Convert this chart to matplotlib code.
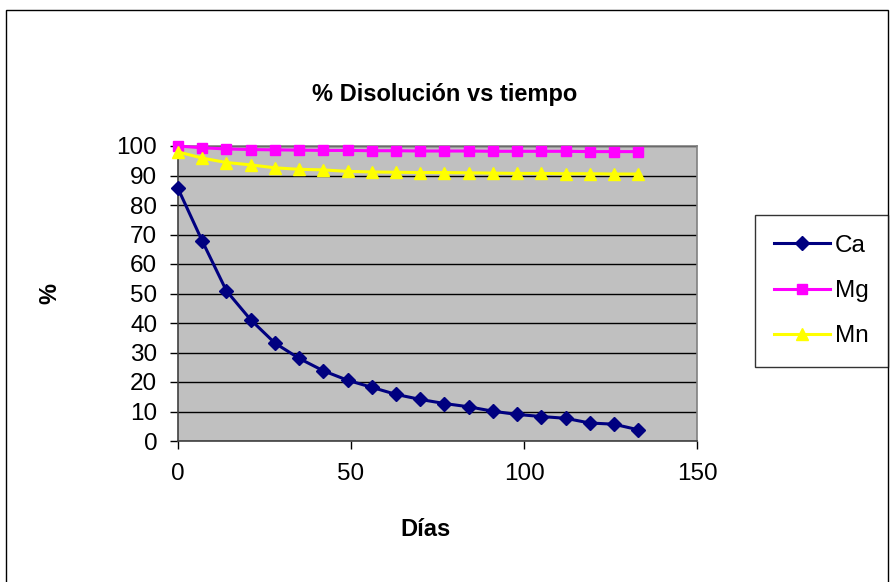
import matplotlib
matplotlib.use("Agg")
import matplotlib.pyplot as plt
from matplotlib.patches import Rectangle

plt.rcParams['font.family'] = ['Liberation Sans', 'DejaVu Sans']

dias = [0, 7, 14, 21, 28, 35, 42, 49, 56, 63, 70, 77, 84, 91, 98, 105, 112, 119, 126, 133]
ca = [85.6, 67.8, 50.9, 41.1, 33.2, 28.0, 23.8, 20.6, 18.2, 15.8,
      14.1, 12.7, 11.6, 10.1, 9.0, 8.3, 7.7, 6.1, 5.7, 3.8]
mg = [100.0, 99.4, 99.0, 98.8, 98.7, 98.6, 98.5, 98.5, 98.4, 98.4,
      98.3, 98.3, 98.3, 98.2, 98.2, 98.2, 98.2, 98.1, 98.1, 98.1]
mn = [98.0, 95.9, 94.4, 93.6, 92.6, 92.1, 91.9, 91.4, 91.2, 91.1,
      91.0, 91.0, 90.9, 90.8, 90.7, 90.7, 90.6, 90.6, 90.5, 90.5]

W, H = 893, 582
fig = plt.figure(figsize=(W / 100, H / 100), dpi=100)
ax = fig.add_axes([178 / W, 1 - 441 / H, (697 - 178) / W, (441 - 146) / H])
ax.set_facecolor('#C0C0C0')

ax.plot(dias, ca, color='#000080', lw=2.2, marker='D', ms=7, label='Ca', clip_on=False, zorder=5)
ax.plot(dias, mg, color='#FF00FF', lw=2.2, marker='s', ms=7.5, label='Mg', clip_on=False, zorder=4)
ax.plot(dias, mn, color='#FFFF00', lw=2.2, marker='^', ms=9, label='Mn', clip_on=False, zorder=4)

ax.set_xlim(0, 150)
ax.set_ylim(0, 100)
ax.set_xticks([0, 50, 100, 150])
ax.set_yticks(range(0, 101, 10))
ax.yaxis.grid(True, color='black', lw=1)
ax.set_axisbelow(True)
for s in ax.spines.values():
    s.set_color('#808080')
    s.set_linewidth(1.2)
ax.spines['left'].set_color('#404040')
ax.spines['bottom'].set_color('#404040')
ax.tick_params(axis='both', direction='out', length=6, width=1, color='black',
               labelsize=17.5)
ax.tick_params(axis='y', pad=9)
ax.tick_params(axis='x', pad=10)

fig.text(445 / W, 1 - 95 / H, '% Disolución vs tiempo', ha='center', va='center',
         fontsize=17, fontweight='bold')
fig.text(426 / W, 1 - 530 / H, 'Días', ha='center', va='center',
         fontsize=17, fontweight='bold')
fig.text(50 / W, 1 - 293 / H, '%', ha='center', va='center', rotation=90,
         fontsize=17, fontweight='bold')

leg = fig.legend(loc='center left', bbox_to_anchor=(755 / W, 1 - 291 / H),
                 fontsize=17.5, frameon=True, fancybox=False, edgecolor='black',
                 handlelength=2.3, handletextpad=0.2, labelspacing=0.95,
                 borderpad=0.8, borderaxespad=0)
leg.get_frame().set_linewidth(1)

# chart-area border
fig.patches.append(Rectangle((6 / W, -0.05), (888 - 6) / W, 1.05 - 10 / H, transform=fig.transFigure,
                             fill=False, edgecolor='black', lw=1))

fig.savefig('out.png', dpi=100)
